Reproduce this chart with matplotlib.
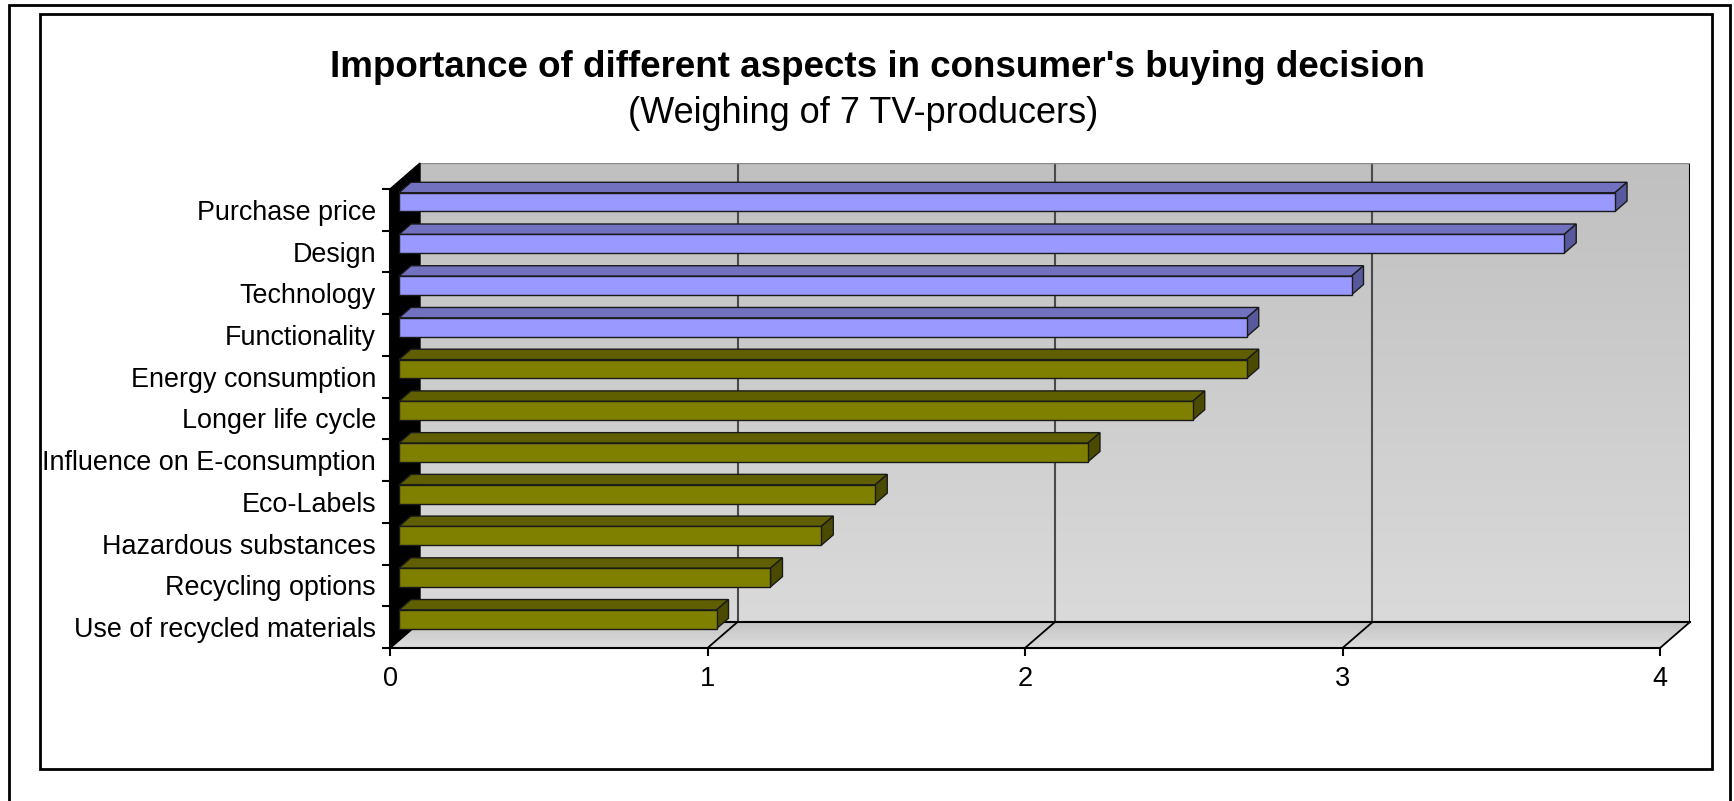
import matplotlib.pyplot as plt
import numpy as np
from matplotlib.patches import Polygon, Rectangle
from matplotlib.transforms import IdentityTransform
from matplotlib.colors import LinearSegmentedColormap, to_rgb

plt.rcParams['font.family'] = ['Liberation Sans', 'DejaVu Sans']

# data (top to bottom)
categories = ['Purchase price', 'Design', 'Technology', 'Functionality',
              'Energy consumption', 'Longer life cycle', 'Influence on E-consumption',
              'Eco-Labels', 'Hazardous substances', 'Recycling options',
              'Use of recycled materials']
values = [3.83, 3.67, 3.0, 2.67, 2.67, 2.5, 2.17, 1.5, 1.33, 1.17, 1.0]
groups = ['product'] * 4 + ['environment'] * 7
x_ticks = [0, 1, 2, 3, 4]

title = "Importance of different aspects in consumer's buying decision"
subtitle = "(Weighing of 7 TV-producers)"

# face colours: front, top, side
colors = {'product': ('#9999ff', '#7171c0', '#58589c'),
          'environment': ('#808000', '#5f5f00', '#4b4b00')}

W, H = 1734, 801
DX, DY = 30, 26          # depth offset of the 3d box in pixels
D0, D1 = 0.3, 0.7        # depth range of the bars
BH = 0.225               # half bar height in category units

fig = plt.figure(figsize=(W / 100, H / 100), dpi=100)

# front plane of the chart box
left, right, top, bottom = 390, 1660, 189, 648
# back wall, a second axes shifted by the depth offset
axb = fig.add_axes([(left + DX) / W, (H - bottom + DY) / H, (right - left) / W, (bottom - top) / H])
axb.set_xlim(0, 4)
axb.set_ylim(0, 1)
wall = LinearSegmentedColormap.from_list('wall', ['#dadada', '#c0c0c0'])
axb.imshow(np.linspace(0, 1, 256).reshape(-1, 1), cmap=wall, extent=(0, 4, 0, 1),
           origin='lower', aspect='auto', zorder=0)
for xv in x_ticks[1:-1]:
    axb.axvline(xv, color='#4a4a4a', lw=1.5, zorder=1)
axb.set_xticks([])
axb.set_yticks([])
for s in axb.spines.values():
    s.set_visible(False)
axb.axvline(4, color='black', lw=1.5)
axb.axhline(1, color='#8a8a8a', lw=1)

ax = fig.add_axes([left / W, (H - bottom) / H, (right - left) / W, (bottom - top) / H])
ax.set_xlim(0, 4)
ax.set_ylim(len(categories) - 0.5, -0.5)
ax.set_autoscale_on(False)
ax.patch.set_visible(False)


def pt(v, c, d):
    x, y = ax.transData.transform((v, c))
    return (x + DX * d, y + DY * d)


def face(pts, fc, z, ec='#1a1a1a', lw=1.0):
    ax.add_patch(Polygon(pts, closed=True, facecolor=fc, edgecolor=ec, lw=lw,
                         transform=IdentityTransform(), clip_on=False, zorder=z))


ylo, yhi = -0.5, len(categories) - 0.5

# floor, shaded from front to back
n = 24
front_c, back_c = np.array(to_rgb('#dcdcdc')), np.array(to_rgb('#c5c5c5'))
for j in range(n):
    da, db = j / n, (j + 1) / n
    col = front_c + (back_c - front_c) * (j + 0.5) / n
    ax.add_patch(Polygon([pt(0, yhi, da), pt(4, yhi, da), pt(4, yhi, db), pt(0, yhi, db)],
                         facecolor=col, edgecolor='none', lw=0, antialiased=False,
                         transform=IdentityTransform(), clip_on=False, zorder=1))
for xv in x_ticks:
    p0, p1 = pt(xv, yhi, 0), pt(xv, yhi, 1)
    ax.plot([p0[0], p1[0]], [p0[1], p1[1]], color='black', lw=1.3,
            transform=IdentityTransform(), clip_on=False, zorder=2)
pb0, pb1 = pt(0, yhi, 1), pt(4, yhi, 1)
ax.plot([pb0[0], pb1[0]], [pb0[1], pb1[1]], color='black', lw=1.5,
        transform=IdentityTransform(), clip_on=False, zorder=2)

# left side wall (seen edge on, black)
face([pt(0, yhi, 0), pt(0, ylo, 0), pt(0, ylo, 1), pt(0, yhi, 1)], 'black', 2, ec='black', lw=1)

# bars
for i, (v, g) in enumerate(zip(values, groups)):
    fc, tc, sc = colors[g]
    a, b = i - BH, i + BH
    face([pt(0, a, D0), pt(v, a, D0), pt(v, a, D1), pt(0, a, D1)], tc, 3)
    face([pt(v, a, D0), pt(v, b, D0), pt(v, b, D1), pt(v, a, D1)], sc, 3)
    face([pt(0, a, D0), pt(v, a, D0), pt(v, b, D0), pt(0, b, D0)], fc, 3)

# axes, ticks and labels
for s in ['top', 'right']:
    ax.spines[s].set_visible(False)
ax.spines['left'].set_linewidth(1.5)
ax.spines['bottom'].set_linewidth(1.5)
ax.spines['bottom'].set_zorder(4)
ax.set_xticks(x_ticks)
ax.set_xticklabels([str(t) for t in x_ticks])
ax.tick_params(axis='x', length=6, width=1.5, pad=7, labelsize=19.5)
ax.set_yticks(range(len(categories)))
ax.set_yticklabels(categories)
ax.tick_params(axis='y', which='major', length=0, pad=10, labelsize=19.4)
ax.set_yticks(np.arange(ylo, yhi + 0.1, 1), minor=True)
ax.tick_params(axis='y', which='minor', length=6, width=1.5)

# title
fig.text(877 / W, 1 - 77 / H, title, ha='center', va='baseline',
         fontsize=26.5, fontweight='bold')
fig.text(863 / W, 1 - 123 / H, subtitle, ha='center', va='baseline', fontsize=26)

# frames
fig.add_artist(Rectangle((40 / W, 1 - 769 / H), (1712 - 40) / W, (769 - 14) / H,
                         transform=fig.transFigure, fill=False, ec='black', lw=2))
fig.add_artist(Rectangle((9 / W, -0.05), (1730 - 9) / W, 1.05 - 5 / H,
                         transform=fig.transFigure, fill=False, ec='black', lw=2))

fig.savefig('out.png', dpi=100)
